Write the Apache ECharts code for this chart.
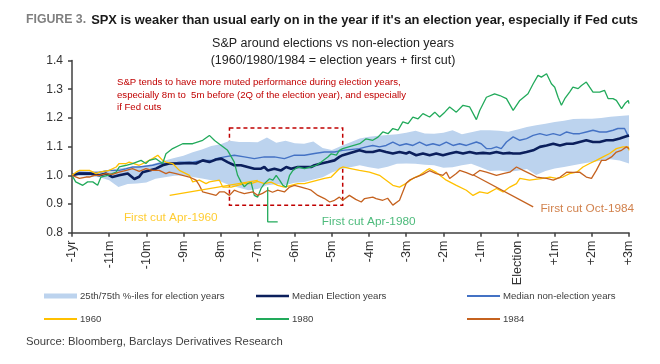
<!DOCTYPE html>
<html><head><meta charset="utf-8">
<script src="https://cdn.jsdelivr.net/npm/echarts@6/dist/echarts.min.js"></script>
<style>html,body{margin:0;padding:0;background:#fff}#c{width:660px;height:364px}</style>
</head><body><div id="c"></div>
<script>
const xTickLabels = ['-1yr','-11m','-10m','-9m','-8m','-7m','-6m','-5m','-4m','-3m','-2m','-1m','Election','+1m','+2m','+3m'];
const yTickValues = [0.8, 0.9, 1.0, 1.1, 1.2, 1.3, 1.4];

const bandX = [-12,-11.75,-11.5,-11.25,-11,-10.75,-10.5,-10.25,-10,-9.75,-9.5,-9.25,-9,-8.75,-8.5,-8.25,-8,-7.75,-7.5,-7.25,-7,-6.75,-6.5,-6.25,-6,-5.75,-5.5,-5.25,-5,-4.75,-4.5,-4.25,-4,-3.75,-3.5,-3.25,-3,-2.75,-2.5,-2.25,-2,-1.75,-1.5,-1.25,-1,-0.75,-0.5,-0.25,0,0.25,0.5,0.75,1,1.25,1.5,1.75,2,2.25,2.5,2.75,3];
const band75 = [1.0,1.008,1.012,1.014,1.018,1.025,1.027,1.03,1.034,1.042,1.052,1.06,1.068,1.08,1.09,1.102,1.108,1.12,1.116,1.116,1.115,1.132,1.113,1.12,1.112,1.11,1.118,1.095,1.088,1.102,1.115,1.128,1.134,1.138,1.14,1.143,1.148,1.155,1.146,1.145,1.148,1.157,1.143,1.15,1.157,1.157,1.155,1.152,1.16,1.168,1.174,1.18,1.186,1.19,1.196,1.197,1.197,1.2,1.204,1.207,1.209];
const band25 = [1.0,0.997,0.995,0.993,0.983,0.959,0.97,0.971,0.975,0.988,0.993,0.998,1.0,0.994,0.989,0.983,0.978,0.965,0.957,0.948,0.952,0.965,0.969,0.966,0.974,0.977,0.985,0.993,1.01,1.022,1.028,1.035,1.028,1.023,1.03,1.04,1.041,1.04,1.037,1.035,1.026,1.028,1.035,1.04,1.028,1.015,1.017,1.012,1.016,1.022,1.001,1.015,1.024,1.029,1.035,1.041,1.046,1.051,1.056,1.052,1.041];

const medianElection = [[-12,1.0],[-11.8,1.006],[-11.53,1.006],[-11.26,1.0],[-11.08,1.006],[-10.91,0.994],[-10.73,1.0],[-10.5,1.006],[-10.32,0.987],[-10.19,0.995],[-10.1,1.011],[-9.92,1.017],[-9.74,1.023],[-9.56,1.035],[-9.38,1.041],[-9.11,1.041],[-8.84,1.043],[-8.66,1.041],[-8.48,1.052],[-8.3,1.046],[-8.12,1.055],[-7.98,1.058],[-7.81,1.046],[-7.63,1.035],[-7.45,1.035],[-7.27,1.029],[-7.09,1.023],[-6.91,1.023],[-6.82,1.029],[-6.73,1.017],[-6.55,1.023],[-6.37,1.017],[-6.23,1.029],[-6.1,1.023],[-5.92,1.029],[-5.74,1.029],[-5.56,1.029],[-5.47,1.035],[-5.29,1.041],[-5.11,1.046],[-4.93,1.052],[-4.8,1.064],[-4.71,1.07],[-4.26,1.087],[-4.08,1.081],[-3.9,1.081],[-3.72,1.087],[-3.54,1.081],[-3.36,1.076],[-3.18,1.081],[-3.0,1.076],[-2.91,1.081],[-2.73,1.07],[-2.55,1.076],[-2.37,1.07],[-2.19,1.076],[-2.01,1.07],[-1.83,1.076],[-1.65,1.081],[-1.47,1.076],[-1.29,1.081],[-1.11,1.076],[-0.93,1.078],[-0.75,1.076],[-0.57,1.081],[-0.39,1.076],[-0.21,1.078],[-0.12,1.076],[0.06,1.076],[0.24,1.081],[0.42,1.087],[0.6,1.099],[0.78,1.104],[0.96,1.11],[1.14,1.104],[1.32,1.11],[1.49,1.11],[1.67,1.116],[1.85,1.122],[2.03,1.116],[2.21,1.116],[2.39,1.122],[2.57,1.122],[2.75,1.128],[2.93,1.136],[3.0,1.139]];

const medianNonElection = [[-12,1.0],[-11.8,1.011],[-11.53,1.01],[-11.26,1.011],[-11.0,1.017],[-10.73,1.017],[-10.54,1.023],[-10.37,1.029],[-10.19,1.029],[-9.83,1.035],[-9.65,1.041],[-9.29,1.041],[-9.11,1.046],[-8.75,1.046],[-8.48,1.052],[-8.21,1.052],[-8.12,1.058],[-7.89,1.064],[-7.63,1.07],[-7.36,1.064],[-7.09,1.058],[-6.82,1.064],[-6.55,1.064],[-6.28,1.058],[-6.01,1.07],[-5.74,1.07],[-5.47,1.076],[-5.2,1.081],[-4.93,1.081],[-4.71,1.087],[-4.26,1.093],[-4.08,1.099],[-3.9,1.104],[-3.72,1.099],[-3.54,1.104],[-3.36,1.116],[-3.18,1.104],[-3.0,1.11],[-2.82,1.104],[-2.64,1.116],[-2.46,1.104],[-2.28,1.11],[-2.1,1.104],[-1.92,1.116],[-1.74,1.104],[-1.56,1.11],[-1.38,1.104],[-1.11,1.116],[-0.98,1.11],[-0.84,1.093],[-0.71,1.093],[-0.57,1.099],[-0.44,1.093],[-0.3,1.116],[-0.12,1.134],[0.06,1.122],[0.24,1.128],[0.42,1.139],[0.6,1.145],[0.78,1.139],[0.96,1.145],[1.14,1.139],[1.32,1.151],[1.49,1.145],[1.67,1.145],[1.85,1.151],[2.03,1.157],[2.21,1.151],[2.39,1.151],[2.57,1.157],[2.7,1.163],[2.88,1.163],[2.97,1.139],[3.0,1.139]];

const y1960 = [[-12,1.0],[-11.89,1.011],[-11.8,1.017],[-11.53,1.017],[-11.35,1.006],[-11.26,1.011],[-11.0,1.017],[-10.81,1.029],[-10.73,1.041],[-10.54,1.041],[-10.46,1.046],[-10.19,1.035],[-10.01,1.046],[-9.92,1.052],[-9.83,1.058],[-9.69,1.07],[-9.56,1.052],[-9.47,1.046],[-9.29,1.041],[-9.11,1.017],[-8.93,1.006],[-8.84,1.0],[-8.75,0.977],[-8.57,0.983],[-8.39,0.971],[-8.3,0.977],[-8.03,0.983],[-7.94,0.959],[-7.71,0.959],[-7.54,0.965],[-7.36,0.971],[-7.18,0.971],[-7.0,0.979],[-6.82,0.971],[-6.64,0.976],[-6.46,0.965],[-6.28,0.959],[-6.1,0.965],[-5.92,0.971],[-5.74,0.971],[-5.56,0.977],[-5.38,0.983],[-5.2,0.989],[-5.02,0.994],[-4.8,1.023],[-4.71,1.029],[-4.53,1.024],[-4.26,1.017],[-3.99,1.011],[-3.72,1.0],[-3.54,0.983],[-3.36,0.965],[-3.18,0.959],[-3.0,0.972],[-2.82,0.989],[-2.64,1.0],[-2.46,1.017],[-2.37,1.023],[-2.19,1.01],[-1.92,0.983],[-1.65,0.965],[-1.38,0.948],[-1.2,0.93],[-1.02,0.942],[-0.81,0.937],[-0.57,0.954],[-0.39,0.942],[-0.21,0.959],[-0.03,0.971],[0.06,0.989],[0.32,0.983],[0.68,0.989],[0.87,0.994],[1.05,0.989],[1.22,0.994],[1.4,1.006],[1.59,1.011],[1.76,1.029],[1.94,1.041],[2.12,1.052],[2.3,1.064],[2.48,1.076],[2.66,1.093],[2.84,1.099],[2.98,1.099],[3.0,1.087]];

const y1980 = [[-12,1.0],[-11.9,0.977],[-11.71,0.965],[-11.58,0.977],[-11.44,0.977],[-11.31,0.965],[-11.22,0.994],[-11.04,1.0],[-10.81,1.011],[-10.73,1.029],[-10.54,1.035],[-10.37,1.041],[-10.14,1.052],[-10.01,1.041],[-9.92,1.052],[-9.74,1.058],[-9.56,1.041],[-9.47,1.075],[-9.29,1.093],[-9.02,1.11],[-8.75,1.11],[-8.48,1.122],[-8.3,1.139],[-8.16,1.121],[-7.98,1.104],[-7.81,1.087],[-7.71,1.064],[-7.63,1.046],[-7.54,1.0],[-7.45,0.977],[-7.36,0.96],[-7.27,0.971],[-7.18,0.977],[-7.09,0.93],[-7.0,0.924],[-6.91,0.954],[-6.82,0.971],[-6.68,0.988],[-6.59,0.983],[-6.5,1.0],[-6.41,0.983],[-6.32,0.965],[-6.23,0.959],[-6.14,1.0],[-6.05,1.017],[-5.92,1.029],[-5.74,1.023],[-5.56,1.029],[-5.42,1.035],[-5.29,1.046],[-5.11,1.064],[-5.02,1.075],[-4.88,1.07],[-4.8,1.087],[-4.71,1.093],[-4.25,1.11],[-4.08,1.127],[-3.9,1.122],[-3.76,1.133],[-3.63,1.151],[-3.49,1.145],[-3.36,1.163],[-3.22,1.157],[-3.09,1.186],[-2.95,1.18],[-2.82,1.203],[-2.68,1.197],[-2.55,1.215],[-2.37,1.203],[-2.23,1.22],[-2.1,1.203],[-1.96,1.22],[-1.83,1.238],[-1.65,1.22],[-1.47,1.244],[-1.29,1.238],[-1.11,1.194],[-1.02,1.226],[-0.84,1.272],[-0.62,1.284],[-0.48,1.278],[-0.3,1.267],[-0.12,1.226],[0.06,1.261],[0.28,1.284],[0.42,1.319],[0.55,1.348],[0.64,1.342],[0.78,1.354],[0.91,1.319],[1.0,1.307],[1.09,1.272],[1.18,1.244],[1.27,1.267],[1.4,1.29],[1.49,1.307],[1.63,1.302],[1.72,1.313],[1.85,1.325],[1.94,1.307],[2.03,1.29],[2.21,1.29],[2.34,1.296],[2.44,1.267],[2.57,1.267],[2.66,1.261],[2.8,1.232],[2.89,1.25],[2.98,1.261],[3.0,1.25]];

const y1984 = [[-12,1.0],[-11.8,0.989],[-11.62,0.994],[-11.53,0.994],[-11.4,1.0],[-11.26,1.0],[-11.08,1.006],[-10.91,1.003],[-10.73,1.011],[-10.54,1.017],[-10.37,1.023],[-10.19,1.014],[-10.01,1.023],[-9.83,1.017],[-9.65,1.017],[-9.47,1.006],[-9.38,1.011],[-9.2,1.006],[-9.02,1.0],[-8.84,0.994],[-8.66,0.983],[-8.57,0.965],[-8.48,0.942],[-8.3,0.936],[-8.12,0.93],[-8.03,0.942],[-7.89,0.942],[-7.76,0.93],[-7.63,0.948],[-7.49,0.941],[-7.36,0.936],[-7.13,0.942],[-7.0,0.93],[-6.87,0.937],[-6.73,0.948],[-6.6,0.941],[-6.46,0.948],[-6.28,0.942],[-6.14,0.959],[-6.01,0.965],[-5.83,0.959],[-5.69,0.954],[-5.56,0.948],[-5.38,0.93],[-5.2,0.919],[-5.06,0.907],[-4.93,0.913],[-4.8,0.924],[-4.71,0.913],[-4.53,0.93],[-4.36,0.916],[-4.21,0.907],[-4.12,0.919],[-3.9,0.924],[-3.81,0.919],[-3.63,0.913],[-3.5,0.92],[-3.36,0.896],[-3.18,0.913],[-3.0,0.972],[-2.91,0.983],[-2.73,0.994],[-2.55,1.003],[-2.37,1.016],[-2.19,1.006],[-2.01,1.0],[-1.92,1.011],[-1.83,0.989],[-1.65,1.006],[-1.56,1.017],[-1.38,1.009],[-1.2,1.0],[-1.02,1.017],[-0.84,1.011],[-0.57,1.0],[-0.39,1.006],[-0.21,1.011],[-0.03,1.029],[0.15,1.017],[0.33,1.006],[0.51,0.994],[0.78,0.989],[0.96,0.983],[1.14,0.993],[1.32,1.011],[1.49,1.01],[1.67,1.011],[1.85,0.994],[1.99,0.989],[2.12,1.017],[2.26,1.052],[2.37,1.052],[2.53,1.064],[2.66,1.081],[2.8,1.087],[2.93,1.099],[3.0,1.093]];

const cutLabels = ['First cut Apr-1960', 'First cut Apr-1980', 'First cut Oct-1984'];
const cutLabelAt = [[-9.34, 0.852], [-4.01, 0.838], [1.876, 0.883]];
const leader1960 = [[-9.37, 0.93], [-7.0, 0.982]];
const leader1980 = [[-6.73, 0.958], [-6.73, 0.838], [-6.46, 0.838]];
const leader1984 = [[-1.2, 1.002], [0.42, 0.89]];
const focusBox = [[-7.76, 1.165], [-4.71, 0.896]];

const noteText = 'S&P tends to have more muted performance during election years,\nespecially 8m to  5m before (2Q of the election year), and especially\nif Fed cuts';
const bandName = '25th/75th %-iles for election years';

const C = {band:'#BCD3EE', elec:'#0B1F5C', nonElec:'#4472C4', y60:'#FFC000', y80:'#22AA5B', y84:'#C5621F', red:'#C00000', axis:'#404040'};
const F = "'Liberation Sans',Arial,sans-serif";

const chart = echarts.init(document.getElementById('c'), null, {renderer:'canvas'});

function legendItem(left, top, name, h) {
  return {left, top, orient:'horizontal', padding:0, itemWidth:33, itemHeight:h, selectedMode:false,
    icon:'rect', data:[{name}],
    textStyle:{fontFamily:F, fontSize:9.6, color:'#404040', lineHeight:12, padding:[0,0,0,-2]}};
}
function lineSeries(name, data, color, width, z) {
  return {type:'line', name, data, symbol:'none', showSymbol:false, z,
    lineStyle:{color, width}, itemStyle:{color}, emphasis:{disabled:true}};
}
chart.setOption({
  animation:false,
  title:[
    {left:26, top:11, padding:0, text:'{g|FIGURE 3.} {b|SPX is weaker than usual early on in the year if it\'s an election year, especially if Fed cuts}',
      textStyle:{rich:{g:{color:'#7F7F7F', fontWeight:'bold', fontSize:12.3, fontFamily:F}, b:{color:'#1A1A1A', fontWeight:'bold', fontSize:12.9, fontFamily:F}}}},
    {left:333, top:35, padding:0, textAlign:'center', text:'S&P around elections vs non-election years\n(1960/1980/1984 = election years + first cut)',
      textStyle:{fontFamily:F, fontSize:12.5, lineHeight:17, fontWeight:'normal', color:'#222'}},
    {left:117, top:76.5, padding:0, text:noteText, textStyle:{fontFamily:F, fontSize:9.6, lineHeight:12.5, fontWeight:'normal', color:C.red}},
    {left:26, top:336, padding:0, text:'Source: Bloomberg, Barclays Derivatives Research', textStyle:{fontFamily:F, fontSize:11.3, fontWeight:'normal', color:'#404040'}}
  ],
  grid:{left:72, right:31, top:60.5, bottom:131.3},
  xAxis:{type:'value', min:-12, max:3, interval:1,
    axisLine:{show:true, onZero:false, lineStyle:{color:C.axis, width:1.5}},
    axisTick:{show:true, length:4, lineStyle:{color:C.axis, width:1.5}},
    splitLine:{show:false},
    axisLabel:{rotate:90, margin:8, fontSize:12.5, fontFamily:F, color:'#333', showMinLabel:true, showMaxLabel:true,
      formatter:v => xTickLabels[Math.round(v + 12)]}},
  yAxis:{type:'value', min:yTickValues[0], max:yTickValues[yTickValues.length-1], interval:0.1,
    axisLine:{show:true, onZero:false, lineStyle:{color:C.axis, width:1.5}},
    axisTick:{show:true, length:4, lineStyle:{color:C.axis, width:1.5}},
    splitLine:{show:false},
    axisLabel:{margin:9, fontSize:12, fontFamily:F, color:'#333', formatter:v => v.toFixed(1)}},
  legend:[
    legendItem(44, 290, bandName, 5),
    legendItem(44, 313, '1960', 2),
    legendItem(256, 290, 'Median Election years', 2.5),
    legendItem(256, 313, '1980', 2),
    legendItem(467, 290, 'Median non-election years', 2),
    legendItem(467, 313, '1984', 2)
  ],
  series:[
    {type:'custom', name:bandName, silent:true, z:1, coordinateSystem:'cartesian2d',
      itemStyle:{color:C.band},
      data:bandX.map((x,i)=>[x, band25[i], band75[i]]),
      encode:{x:0, y:[1,2]},
      renderItem:(params, api) => {
        if (params.dataIndex !== 0) return null;
        const pts = [];
        for (let i = 0; i < bandX.length; i++) pts.push(api.coord([bandX[i], band75[i]]));
        for (let i = bandX.length - 1; i >= 0; i--) pts.push(api.coord([bandX[i], band25[i]]));
        return {type:'polygon', shape:{points:pts}, style:{fill:C.band}};
      }},
    lineSeries('Median non-election years', medianNonElection, C.nonElec, 1.4, 3),
    lineSeries('Median Election years', medianElection, C.elec, 2.6, 4),
    lineSeries('1960', y1960, C.y60, 1.3, 5),
    lineSeries('1980', y1980, C.y80, 1.3, 5),
    lineSeries('1984', y1984, C.y84, 1.3, 5),
    {type:'line', name:'lead60', data:leader1960, symbol:'none', silent:true, z:6, lineStyle:{color:C.y60, width:1.3}},
    {type:'line', name:'lead80', data:leader1980, symbol:'none', silent:true, z:6, lineStyle:{color:C.y80, width:1.3}},
    {type:'line', name:'lead84', data:leader1984, symbol:'none', silent:true, z:6, lineStyle:{color:C.y84, width:1.3}},
    {type:'scatter', name:'cutText', silent:true, z:7, symbolSize:1, itemStyle:{color:'rgba(0,0,0,0)'},
      data:cutLabels.map((t,i)=>({value:cutLabelAt[i], label:{show:true, formatter:t, position:'inside', align:'center', verticalAlign:'middle',
        fontFamily:F, fontSize:11.8, color:[C.y60, C.y80, C.y84][i]}}))},
    {type:'line', name:'box', data:[], silent:true, z:8,
      markArea:{silent:true, itemStyle:{color:'rgba(0,0,0,0)', borderColor:C.red, borderWidth:1.5, borderType:[4,3]},
        data:[[{coord:focusBox[0]}, {coord:focusBox[1]}]]}}
  ]
});
</script></body></html>
